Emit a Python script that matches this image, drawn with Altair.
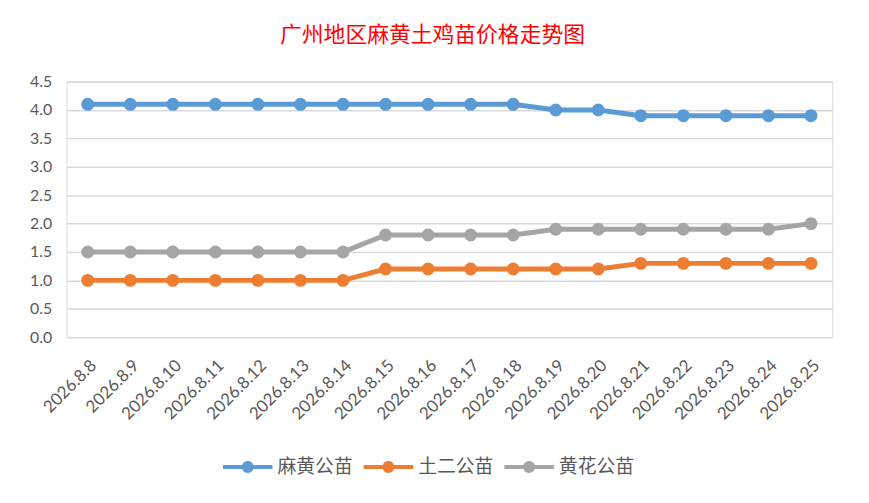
import altair as alt
import pandas as pd

dates = ["2026.8.8", "2026.8.9", "2026.8.10", "2026.8.11", "2026.8.12", "2026.8.13",
         "2026.8.14", "2026.8.15", "2026.8.16", "2026.8.17", "2026.8.18", "2026.8.19",
         "2026.8.20", "2026.8.21", "2026.8.22", "2026.8.23", "2026.8.24", "2026.8.25"]
mahuang = [4.1, 4.1, 4.1, 4.1, 4.1, 4.1, 4.1, 4.1, 4.1, 4.1, 4.1, 4.0, 4.0, 3.9, 3.9, 3.9, 3.9, 3.9]
tuer = [1.0, 1.0, 1.0, 1.0, 1.0, 1.0, 1.0, 1.2, 1.2, 1.2, 1.2, 1.2, 1.2, 1.3, 1.3, 1.3, 1.3, 1.3]
huanghua = [1.5, 1.5, 1.5, 1.5, 1.5, 1.5, 1.5, 1.8, 1.8, 1.8, 1.8, 1.9, 1.9, 1.9, 1.9, 1.9, 1.9, 2.0]
series_names = ["麻黄公苗", "土二公苗", "黄花公苗"]
series_colors = ["#5B9BD5", "#ED7D31", "#A5A5A5"]
y_ticks = [0.0, 0.5, 1.0, 1.5, 2.0, 2.5, 3.0, 3.5, 4.0, 4.5]

rows = []
for name, vals in zip(series_names, [mahuang, tuer, huanghua]):
    for i, (d, v) in enumerate(zip(dates, vals)):
        rows.append({"date": d, "price": v, "series": name, "order": i})
df = pd.DataFrame(rows)

legend_symbol = ("M-1,-0.08 L1,-0.08 L1,0.08 L-1,0.08 Z "
                 "M0.24,0 A0.24,0.24 0 1,1 -0.24,0 A0.24,0.24 0 1,1 0.24,0 Z")

scale = alt.Scale(domain=series_names, range=series_colors)

legend = alt.Legend(
    title=None,
    orient="none",
    legendX=158,
    legendY=364,
    direction="horizontal",
    symbolType=legend_symbol,
    symbolSize=2500,
    symbolStrokeWidth=0,
    symbolOpacity=1,
    labelFont="Noto Sans CJK SC",
    labelFontSize=19,
    labelColor="#595959",
    labelOffset=5,
)

x = alt.X(
    "date:N",
    sort=dates,
    scale=alt.Scale(paddingOuter=0.5, paddingInner=0),
    axis=alt.Axis(title=None, labelAngle=-45, labelFont="Lato", labelFontSize=17,
                  labelColor="#595959", domain=False, ticks=False, labelPadding=20,
                  grid=False),
)
y = alt.Y(
    "price:Q",
    scale=alt.Scale(domain=[0, 4.5], nice=False),
    axis=alt.Axis(title=None, values=y_ticks, format=".1f", labelFont="Lato",
                  labelFontSize=16, labelColor="#595959", domain=False, ticks=False,
                  labelPadding=15, gridColor="#D9D9D9", gridWidth=1.5),
)

base = alt.Chart(df).encode(x=x, y=y, order="order:Q")
lines = base.mark_line(strokeWidth=5).encode(
    color=alt.Color("series:N", scale=scale, sort=series_names, legend=None)
)
points = base.mark_circle(size=170, opacity=1).encode(
    color=alt.Color("series:N", scale=scale, sort=series_names, legend=legend)
)

chart = (lines + points).resolve_legend(color="independent").properties(
    width=773,
    height=258,
    title=alt.Title("广州地区麻黄土鸡苗价格走势图", font="Noto Sans CJK SC", fontSize=22,
                    fontWeight="normal", color="#FF0000", offset=27, dx=-17),
    autosize=alt.AutoSizeParams(type="none"),
    padding={"left": 59, "top": 72, "right": 29, "bottom": 157},
).configure_view(stroke=None).configure_legend(columnPadding=9).configure(background="white")

chart.save("out.html", embed_options={"renderer": "svg", "actions": False})
